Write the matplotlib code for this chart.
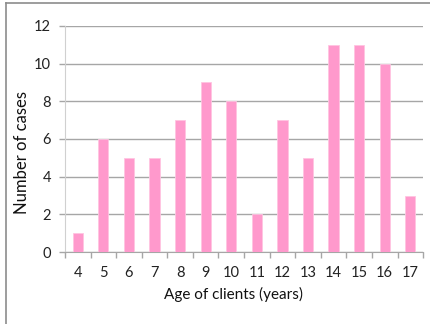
import matplotlib.pyplot as plt
import numpy as np
from matplotlib.lines import Line2D

ages = ['4', '5', '6', '7', '8', '9', '10', '11', '12', '13', '14', '15', '16', '17']
cases = [1, 6, 5, 5, 7, 9, 8, 2, 7, 5, 11, 11, 10, 3]

plt.rcParams['font.family'] = ['Lato', 'DejaVu Sans']

fig = plt.figure(figsize=(4.3, 3.24), dpi=100)
ax = fig.add_axes([0.151, 0.222, 0.833, 0.698])

x = np.arange(len(ages))
ax.bar(x, cases, width=0.4, color='#ff99cc', edgecolor='#ffc4e1', linewidth=0.6, zorder=3)

ax.set_xlim(-0.5, len(ages) - 0.5)
ax.set_ylim(0, 12)
ax.set_yticks(range(0, 13, 2))
ax.yaxis.grid(True, color='#a6a6a6', linewidth=1.0, zorder=0)

ax.set_xticks(x)
ax.set_xticklabels(ages)
ax.set_xticks(np.arange(-0.5, len(ages), 1), minor=True)
ax.tick_params(axis='x', which='major', length=0, pad=10, labelsize=10.5, colors='#222222')
ax.tick_params(axis='x', which='minor', length=4, color='#a6a6a6', width=1)
ax.tick_params(axis='y', length=4, color='#a6a6a6', width=1, labelsize=10.5, colors='#222222', pad=6)

for s in ['top', 'right']:
    ax.spines[s].set_visible(False)
ax.spines['left'].set_color('#d0d0d0')
ax.spines['bottom'].set_color('#a6a6a6')

ax.set_xlabel('Age of clients (years)', fontsize=11, color='#111111')
ax.set_ylabel('Number of cases', fontsize=12, color='#111111')
ax.xaxis.set_label_coords(0.472, -0.155)
ax.yaxis.set_label_coords(-0.098, 0.442)

# partial outer frame (left and top edges)
fig.add_artist(Line2D([6 / 430, 6 / 430], [0, 1 - 3 / 324], transform=fig.transFigure, color='#8c8c8c', linewidth=1.2))
fig.add_artist(Line2D([6 / 430, 1], [1 - 3 / 324, 1 - 3 / 324], transform=fig.transFigure, color='#8c8c8c', linewidth=1.2))

fig.savefig('out.png', dpi=100)
